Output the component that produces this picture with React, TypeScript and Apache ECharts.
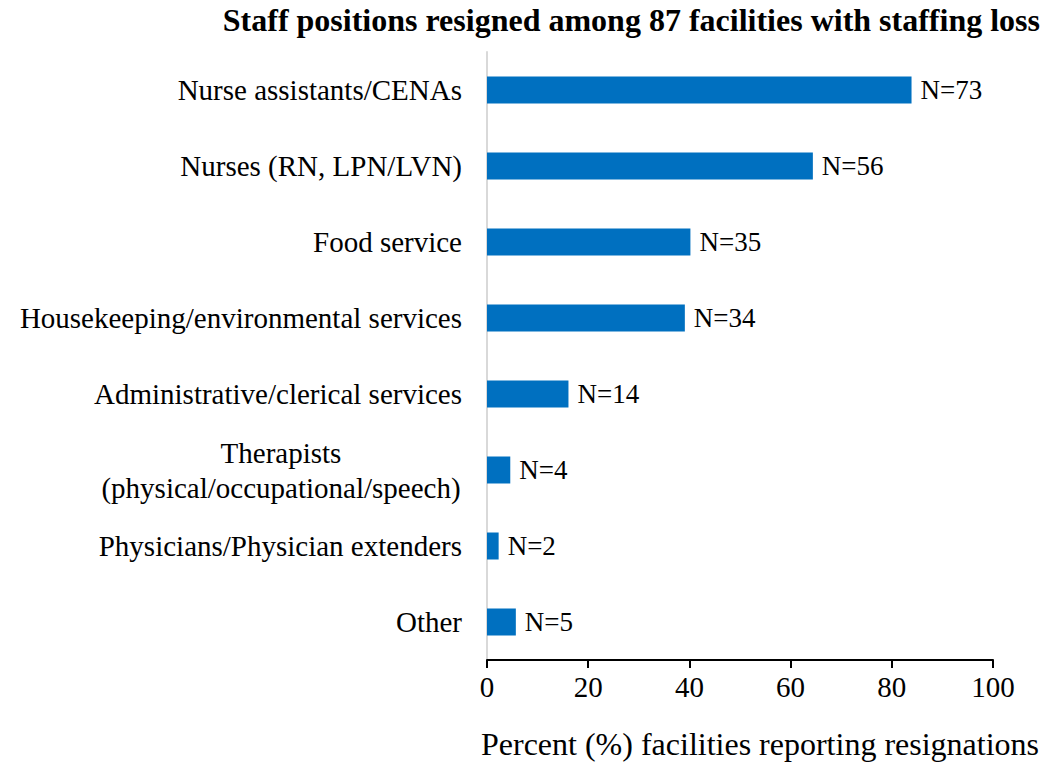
import React, { useEffect, useRef } from "react";
import * as echarts from "echarts";

const categories = [
  "Nurse assistants/CENAs",
  "Nurses (RN, LPN/LVN)",
  "Food service",
  "Housekeeping/environmental services",
  "Administrative/clerical services",
  "Therapists\n(physical/occupational/speech)",
  "Physicians/Physician extenders",
  "Other",
];
const percents = [83.9, 64.4, 40.2, 39.1, 16.1, 4.6, 2.3, 5.7];
const counts = [73, 56, 35, 34, 14, 4, 2, 5];
const xTicks = [0, 20, 40, 60, 80, 100];

const FONT = "'Liberation Serif', 'Times New Roman', serif";

export default function App() {
  const ref = useRef<HTMLDivElement>(null);
  useEffect(() => {
    const chart = echarts.init(ref.current!, null, { renderer: "svg" });
    chart.setOption({
      animation: false,
      backgroundColor: "#ffffff",
      textStyle: { fontFamily: FONT },
      grid: { left: 487, right: 63, top: 52, bottom: 103, containLabel: false },
      xAxis: {
        type: "value",
        min: xTicks[0],
        max: xTicks[xTicks.length - 1],
        interval: 20,
        axisLine: { show: true, lineStyle: { color: "#000", width: 2 } },
        axisTick: { show: true, inside: false, length: 8, lineStyle: { color: "#000", width: 2 } },
        splitLine: { show: false },
        axisLabel: { color: "#000", fontSize: 29, fontFamily: FONT, margin: 12 },
      },
      yAxis: {
        type: "category",
        inverse: true,
        data: categories,
        axisLine: { show: true, lineStyle: { color: "#d9d9d9", width: 2 } },
        axisTick: { show: false },
        axisLabel: {
          color: "#000",
          fontSize: 29,
          fontFamily: FONT,
          margin: 25,
          formatter: (v: string) => {
            if (v.indexOf("\n") >= 0) {
              return v
                .split("\n")
                .map((s) => "{c|" + s + "}")
                .join("\n");
            }
            return v;
          },
          rich: {
            c: {
              width: 362,
              align: "center",
              fontSize: 29,
              fontFamily: FONT,
              color: "#000",
              lineHeight: 35,
            },
          },
        },
      },
      series: [
        {
          type: "bar",
          data: percents,
          barWidth: 27,
          itemStyle: { color: "#0070C0" },
          label: {
            show: true,
            position: "right",
            distance: 9,
            color: "#000",
            fontSize: 27,
            fontFamily: FONT,
            formatter: (p: any) => "N=" + counts[p.dataIndex],
          },
        },
      ],
      graphic: [
        {
          type: "text",
          right: 16,
          top: 4,
          style: {
            text: "Staff positions resigned among 87 facilities with staffing loss",
            font: "bold 32px " + FONT,
            fill: "#000",
          },
        },
        {
          type: "text",
          x: 481,
          y: 744,
          style: {
            text: "Percent (%) facilities reporting resignations",
            font: "32px " + FONT,
            fill: "#000",
            align: "left",
            verticalAlign: "middle",
          },
        },
      ],
    });
    return () => chart.dispose();
  }, []);
  return (
    <div
      ref={ref}
      style={{ position: "absolute", left: 0, top: 0, width: 1056, height: 763 }}
    />
  );
}
